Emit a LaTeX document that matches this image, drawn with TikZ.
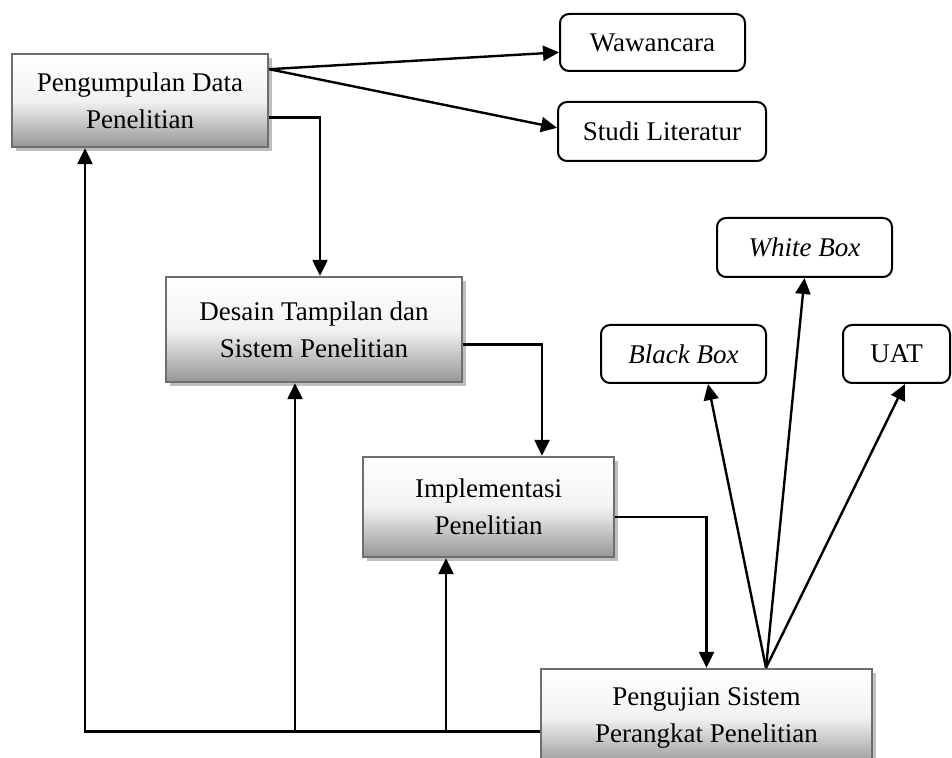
\documentclass[tikz,border=0pt]{standalone}
\usepackage{fontspec}
\setmainfont{Liberation Serif}
\usetikzlibrary{arrows.meta,shadows,calc}
\definecolor{boxedge}{RGB}{110,110,110}
\definecolor{boxdark}{RGB}{150,150,150}
\definecolor{shadowgray}{RGB}{190,190,190}
\begin{document}
\begin{tikzpicture}[x=0.5pt,y=-0.5pt,
  every node/.style={font=\fontsize{13.5}{18.5}\selectfont, align=center, inner sep=0pt},
  stagebox/.style={draw=boxedge, line width=1.2pt,
    top color=white, bottom color=boxdark, middle color=white!88!boxdark,
    drop shadow={shadow xshift=2pt, shadow yshift=-2pt, fill=shadowgray, opacity=1}},
  leafbox/.style={draw=black, line width=1pt, rounded corners=4.5pt, fill=white},
  link/.style={line width=1.2pt, draw=black},
  arr/.style={link, -{Triangle[length=8pt,width=7.5pt]}}]
\clip (0,0) rectangle (952,758);
\useasboundingbox (0,0) rectangle (952,758);

% process stages
\node[stagebox, minimum width=128pt, minimum height=46.5pt] (pd) at (140,100.5)
  {Pengumpulan Data\\Penelitian};
\node[stagebox, minimum width=148pt, minimum height=52.5pt] (ds) at (314,329.5)
  {Desain Tampilan dan\\Sistem Penelitian};
\node[stagebox, minimum width=125.5pt, minimum height=50pt] (im) at (488.5,507)
  {Implementasi\\Penelitian};
\node[stagebox, minimum width=165.5pt, minimum height=48.5pt] (pj) at (706.5,717.5)
  {Pengujian Sistem\\Perangkat Penelitian};

% methods
\node[leafbox, minimum width=92.5pt, minimum height=28.5pt] (ww) at (652.5,42.5) {Wawancara};
\node[leafbox, minimum width=104pt, minimum height=29.5pt] (sl) at (662,131.5) {Studi Literatur};
\node[leafbox, minimum width=87.5pt, minimum height=29.5pt] (wb) at (804.5,247.5) {\itshape White Box};
\node[leafbox, minimum width=82.5pt, minimum height=29pt] (bb) at (683.5,354) {\itshape Black Box};
\node[leafbox, minimum width=53.5pt, minimum height=29pt] (uat) at (896.5,354) {UAT};

% data collection methods
\coordinate (pdout) at ($(pd.north east)!0.172!(pd.south east)$);
\draw[arr] (pdout) -- ($(ww.north west)!0.667!(ww.south west)$);
\draw[arr] (pdout) -- ($(sl.north west)!0.44!(sl.south west)$);

% main flow
\draw[arr] ($(pd.north east)!0.677!(pd.south east)$) -| ([xshift=3pt]ds.north);
\draw[arr] ($(ds.north east)!0.64!(ds.south east)$) -| ([xshift=26.75pt]im.north);
\draw[arr] ($(im.north east)!0.6!(im.south east)$) -| (pj.north);

% testing methods
\coordinate (apex) at ([xshift=29.75pt]pj.north);
\draw[arr] (apex) -- ([xshift=12.25pt]bb.south);
\draw[arr] (apex) -- (wb.south);
\draw[arr] (apex) -- ([xshift=4.25pt]uat.south);

% feedback paths
\coordinate (fb) at ($(pj.north west)!0.64!(pj.south west)$);
\coordinate (pdin) at ([xshift=-27.5pt]pd.south);
\coordinate (dsin) at ([xshift=-9.5pt]ds.south);
\coordinate (imin) at ([xshift=-21.25pt]im.south);
\draw[arr] (fb) -| (pdin);
\draw[arr] (fb -| dsin) -- (dsin);
\draw[arr] (fb -| imin) -- (imin);
\end{tikzpicture}
\end{document}
